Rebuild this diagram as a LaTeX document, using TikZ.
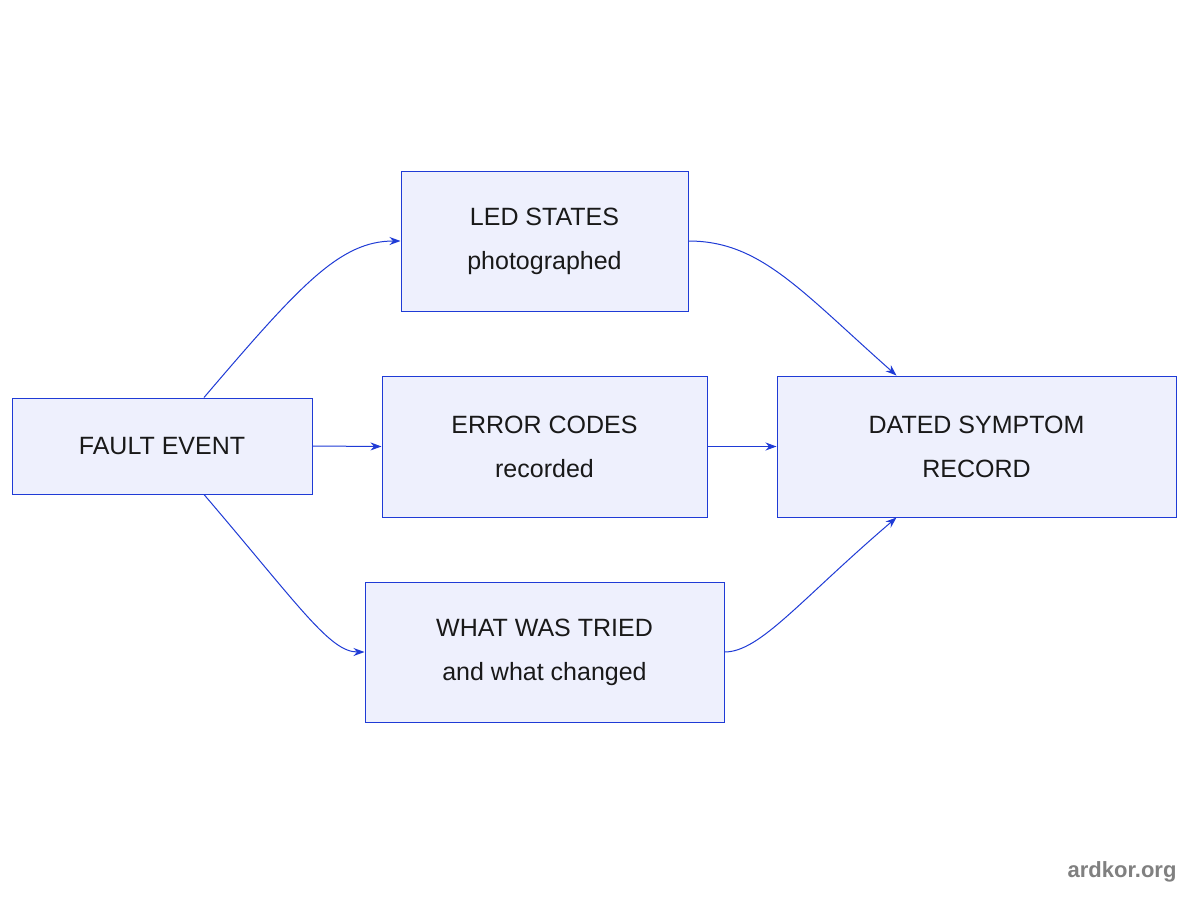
\documentclass[tikz,border=0pt]{standalone}
\usepackage{fontspec}
\setmainfont{Liberation Sans}
\usetikzlibrary{calc,arrows.meta}
\definecolor{edge}{HTML}{1F3BD6}
\definecolor{boxfill}{HTML}{EEF0FD}
\begin{document}
\begin{tikzpicture}[x=1pt,y=-1pt,
  box/.style={draw=edge,fill=boxfill,line width=1pt,inner sep=0pt,align=center,font=\fontsize{25}{44}\selectfont,text=black!90},
  conn/.style={draw=edge,line width=1pt,-{Stealth[length=11pt,width=8pt]}}]
\useasboundingbox (0,0) rectangle (1200,900);
\fill[white] (0,0) rectangle (1200,900);
\node[box,minimum width=300pt,minimum height=96pt] (fault) at (162,446) {FAULT EVENT};
\node[box,minimum width=287pt,minimum height=140pt] (led) at (544.5,241) {LED STATES\\photographed};
\node[box,minimum width=325pt,minimum height=141pt] (err) at (544.5,446.5) {ERROR CODES\\recorded};
\node[box,minimum width=359pt,minimum height=140pt] (what) at (544.5,652) {WHAT WAS TRIED\\and what changed};
\node[box,minimum width=399pt,minimum height=141pt] (dated) at (976.5,446.5) {DATED SYMPTOM\\RECORD};
\draw[conn] ($(fault.north)+(42,0)$) .. controls (300,285) and (340,241) .. (led.west);
\draw[conn] (fault.east) -- (err.west);
\draw[conn] ($(fault.south)+(42,0)$) .. controls (300,607) and (330,652) .. (what.west);
\draw[conn] (led.east) .. controls (760,241) and (800,290) .. ($(dated.north)+(-80,0)$);
\draw[conn] (err.east) -- (dated.west);
\draw[conn] (what.east) .. controls (760,652) and (800,600) .. ($(dated.south)+(-80,0)$);
\node[font=\bfseries\fontsize{22}{26}\selectfont,text=black!50,anchor=east] (wm) at (1180,872) {ardkor.org};
\end{tikzpicture}
\end{document}
